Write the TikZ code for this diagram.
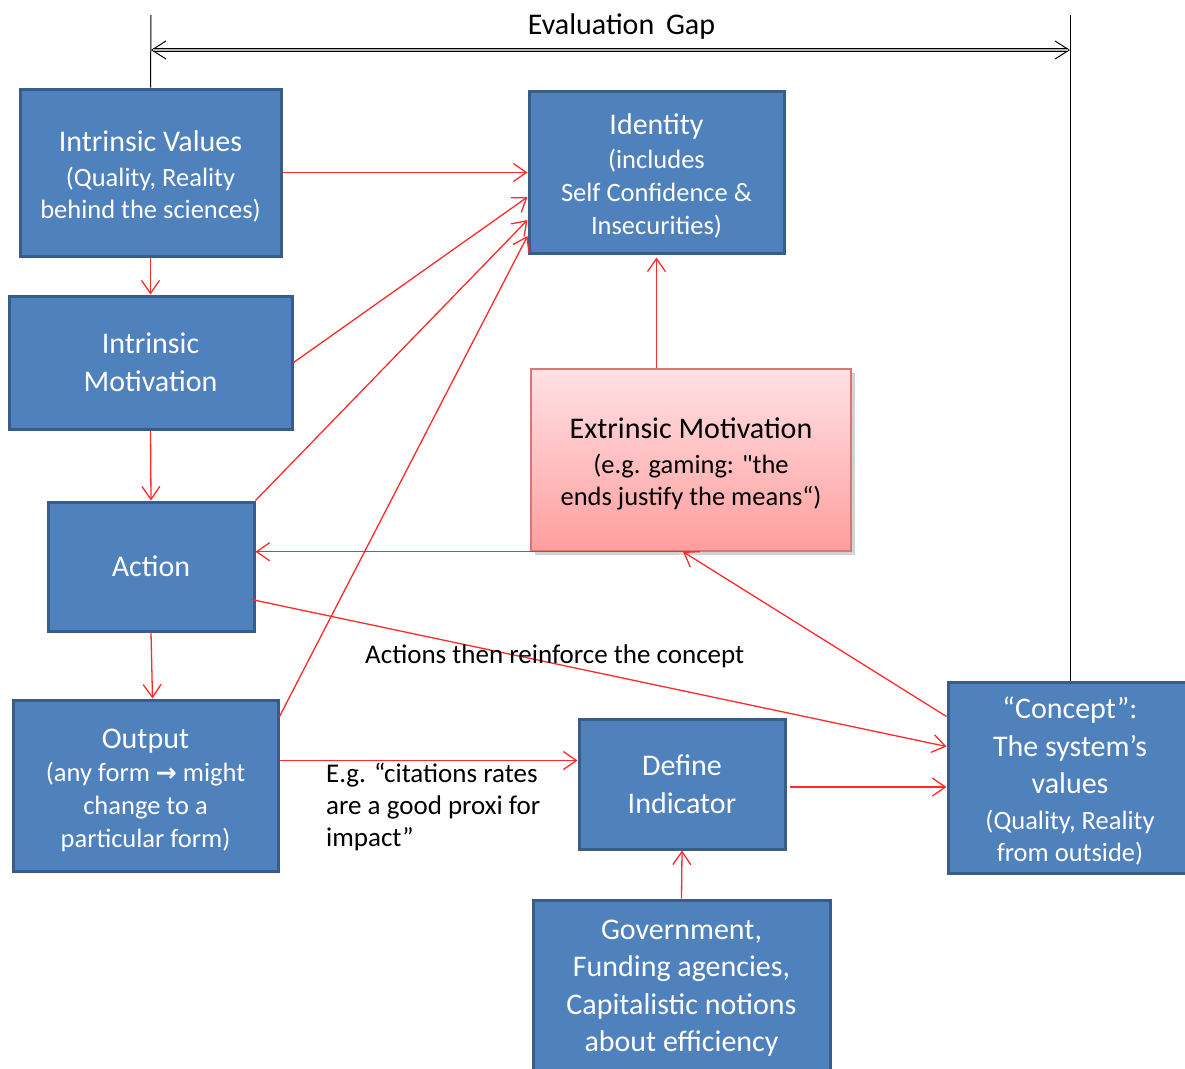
\documentclass[tikz,border=0pt]{standalone}
\usepackage{fontspec}
\setmainfont{Carlito}
\newfontfamily\qfont{Carlito}
\newfontfamily\symfont{DejaVu Sans}
\usetikzlibrary{arrows.meta,shadows}
\definecolor{boxfill}{HTML}{4F81BD}
\definecolor{boxdraw}{HTML}{385D8A}
\definecolor{arrred}{HTML}{FF2A2A}
\definecolor{emtop}{HTML}{FFE1E4}
\definecolor{embot}{HTML}{FF9E9E}
\definecolor{emdraw}{HTML}{D97777}
\newcommand{\Lg}{\fontsize{30}{37.5}\selectfont}
\newcommand{\Sm}{\fontsize{26.5}{32.5}\selectfont}
\newcommand{\Lb}{\fontsize{27}{32}\selectfont}
\newcommand{\Up}{\rule{0pt}{29pt}}
\tikzset{
  bluebox/.style={draw=boxdraw, fill=boxfill, line width=3pt, text=white, align=center, inner sep=0pt, font=\Lg},
  embox/.style={draw=emdraw, line width=1.5pt, top color=emtop, bottom color=embot, text=black, align=center, inner sep=0pt, font=\Lg,
     drop shadow={shadow xshift=4pt, shadow yshift=-4pt, opacity=0.35}},
  rarr/.style={draw=arrred, line width=1.3pt, -{Straight Barb[length=13pt,width=18pt]}},
  lbl/.style={text=black, inner sep=0pt, font=\Lb, align=left},
}
\begin{document}
\begin{tikzpicture}[x=1pt, y=-1pt]
\useasboundingbox (0,0) rectangle (1185,1068);
% boxes
\node[bluebox, minimum width=261, minimum height=167] (iv) at (150.5,172.5)
  {\Up Intrinsic Values\\[-3pt] {\Sm (Quality, Reality}\\[-5pt] {\Sm behind the sciences)}};
\node[bluebox, minimum width=255, minimum height=162] (id) at (656.5,172)
  {\Up Identity\\[-3pt] {\Sm (includes}\\[-5pt] {\Sm Self Confidence \&}\\[-4pt] {\Sm Insecurities)}};
\node[bluebox, minimum width=283, minimum height=133] (im) at (150.5,362.5)
  {Intrinsic\\ Motivation};
\node[bluebox, minimum width=206, minimum height=129] (act) at (151,566.5) {Action};
\node[embox, minimum width=320, minimum height=182] (em) at (691,460)
  {\Up Extrinsic Motivation\\[-3pt] {\Sm (e.g. gaming: {\qfont"}the}\\[-5pt] {\Sm ends justify the means“)}};
\node[bluebox, minimum width=265, minimum height=171] (out) at (145.5,785.5)
  {\Up Output\\[-4pt] {\Sm (any form {\symfont\bfseries\fontsize{25}{30}\selectfont →} might}\\[-4.5pt] {\Sm change to a}\\[-4.5pt] {\Sm particular form)}};
\node[bluebox, minimum width=206, minimum height=130] (def) at (682,784) {Define\\ Indicator};
\node[bluebox, minimum width=244, minimum height=191] (con) at (1070,777.5)
  {\Up “Concept”:\\ The system’s\\ values\\[-2pt] {\Sm (Quality, Reality}\\[-5pt] {\Sm from outside)}};
\node[bluebox, minimum width=297, minimum height=176] (gov) at (681.5,988)
  {Government,\\ Funding agencies,\\ Capitalistic notions\\ about efficiency};
% evaluation gap
\coordinate (gl) at (151,15);
\coordinate (gr) at (1070,15);
\coordinate (ga) at (151,50);
\coordinate (gb) at (1070,50);
\draw[black, line width=1pt] (gl) -- (iv.north);
\draw[black, line width=1pt] (gr) -- (con.north);
\draw[black, line width=1pt, {Straight Barb[length=14pt,width=18pt]}-{Straight Barb[length=14pt,width=18pt]}] (ga) -- (gb);
\draw[black, line width=3.6pt, shorten <=2pt, shorten >=2pt] (ga) -- (gb);
\draw[gray!55, line width=1.1pt, shorten <=2pt, shorten >=2pt] (ga) -- (gb);
\node[text=black, font=\fontsize{30}{36}\selectfont, inner sep=0pt] (gap) at (621.5,27) {Evaluation\, Gap};
% red connectors
\draw[rarr] (iv.east) -- (iv.east -| id.west);
\draw[rarr] (iv.south) -- (im.north);
\draw[rarr] (im.east) -- ([yshift=-25pt]id.west);
\draw[rarr] (act.north east) -- ([yshift=-48pt]id.west);
\draw[rarr] ([yshift=-18pt]out.north east) -- ([yshift=-64pt]id.west);
\draw[rarr] (im.south) -- (act.north);
\draw[rarr] (act.south) -- ([xshift=7pt]out.north);
\draw[rarr] (em.south) -- (em.south -| act.east);
\draw[rarr] (em.north -| id.south) -- ([yshift=-3pt]id.south);
\draw[rarr] ([yshift=-36pt]con.north west) -- ([xshift=-8pt]em.south);
\draw[rarr] ([xshift=-4pt,yshift=-33pt]act.east) -- ([yshift=-66pt]con.north west);
\draw[rarr] ([yshift=25pt]out.east) -- ([yshift=25pt]out.east -| def.west);
\draw[rarr] ([xshift=3pt,yshift=-3pt]def.east) -- ([yshift=-3pt]def.east -| con.west);
\draw[rarr] (gov.north) -- (def.south);
% labels
\node[lbl, anchor=west] (lab1) at (365,656) {Actions then reinforce the concept};
\node[lbl, anchor=west] (lab2) at (326,807) {E.g. “citations rates\\ are a good proxi for\\ impact”};
\end{tikzpicture}
\end{document}
